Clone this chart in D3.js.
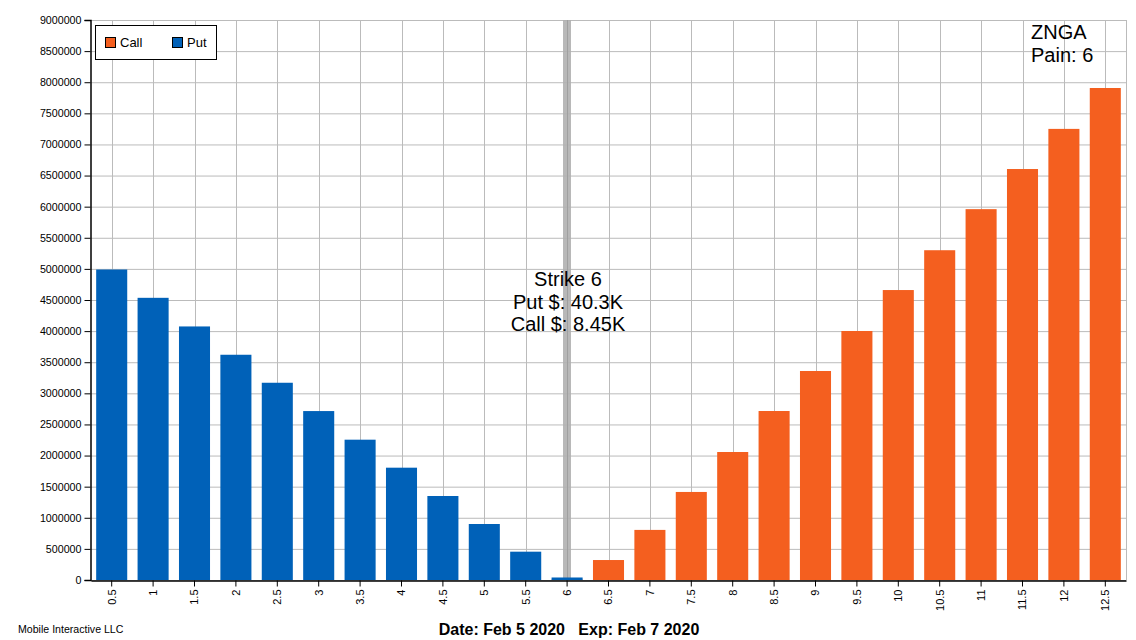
<!DOCTYPE html>
<html><head><meta charset="utf-8">
<script src="https://cdn.jsdelivr.net/npm/d3@7"></script>
<style>
html,body{margin:0;padding:0;background:#fff;}
text{font-family:"Liberation Sans",Arial,sans-serif;}
</style></head>
<body>
<svg id="c" width="1136" height="640"></svg>
<script>
const strikes = ["0.5","1","1.5","2","2.5","3","3.5","4","4.5","5","5.5","6","6.5","7","7.5","8","8.5","9","9.5","10","10.5","11","11.5","12","12.5"];
const putValues = [4990000,4535000,4075000,3620000,3170000,2715000,2255000,1805000,1350000,900000,455000,40300,0,0,0,0,0,0,0,0,0,0,0,0,0];
const callValues = [0,0,0,0,0,0,0,0,0,0,0,8450,321000,805000,1415000,2057000,2716000,3359000,4002000,4660000,5300000,5960000,6605000,7250000,7907000];
const yTicks = [0,500000,1000000,1500000,2000000,2500000,3000000,3500000,4000000,4500000,5000000,5500000,6000000,6500000,7000000,7500000,8000000,8500000,9000000];
const painStrike = "6";
const ticker = "ZNGA";
const annotation = ["Strike 6","Put $: 40.3K","Call $: 8.45K"];
const dateLine = "Date: Feb 5 2020   Exp: Feb 7 2020";
const company = "Mobile Interactive LLC";

const svg = d3.select("#c");
const L=91, R=1126, T=20, B=580;
const x = d3.scaleBand().domain(strikes).range([L,R]).paddingInner(0.25).paddingOuter(0.125);
const y = d3.scaleLinear().domain([0,9000000]).range([B,T]);
const gridC = "#bbbbbb";
const callC = "#f45f1f", putC = "#0061b8";

svg.append("g").selectAll("line").data(yTicks).join("line")
  .attr("x1",L).attr("x2",R).attr("y1",d=>y(d)+0.5).attr("y2",d=>y(d)+0.5)
  .attr("stroke",gridC).attr("stroke-width",1);
svg.append("g").selectAll("line").data(strikes).join("line")
  .attr("x1",d=>Math.round(x(d)+x.bandwidth()/2)+0.5).attr("x2",d=>Math.round(x(d)+x.bandwidth()/2)+0.5)
  .attr("y1",T).attr("y2",B).attr("stroke",gridC).attr("stroke-width",1);
svg.append("line").attr("x1",R+0.5).attr("x2",R+0.5).attr("y1",T).attr("y2",B).attr("stroke",gridC);

const sx = x(painStrike)+x.bandwidth()/2;
svg.append("rect").attr("x",Math.round(sx)-4).attr("y",T).attr("width",8).attr("height",B-T)
  .attr("fill","#b0b0b0").attr("opacity",0.9);
svg.append("line").attr("x1",Math.round(sx)+0.5).attr("x2",Math.round(sx)+0.5).attr("y1",T).attr("y2",B)
  .attr("stroke","#a0a0a0");

svg.append("g").selectAll("rect").data(strikes.map((s,i)=>({s,v:callValues[i]}))).join("rect")
  .attr("x",d=>x(d.s)).attr("width",x.bandwidth())
  .attr("y",d=>y(d.v)).attr("height",d=>B-y(d.v)).attr("fill",callC);
svg.append("g").selectAll("rect").data(strikes.map((s,i)=>({s,v:putValues[i]}))).join("rect")
  .attr("x",d=>x(d.s)).attr("width",x.bandwidth())
  .attr("y",d=>y(d.v)).attr("height",d=>B-y(d.v)).attr("fill",putC);

const ya = svg.append("g").attr("transform",`translate(${L-0.5},0)`)
  .call(d3.axisLeft(y).tickValues(yTicks).tickFormat(d3.format("d")).tickSize(6).tickPadding(3));
ya.selectAll("text").attr("font-size",10.7).attr("fill","#000");
ya.selectAll("line,path").attr("stroke","#000");
ya.select("path").attr("stroke-width",1.5);
const xa = svg.append("g").attr("transform",`translate(0,${B+0.5})`)
  .call(d3.axisBottom(x).tickSize(6).tickSizeOuter(0));
xa.selectAll("line,path").attr("stroke","#000");
xa.select("path").attr("stroke-width",1.5);
xa.selectAll("text").attr("font-size",11).attr("fill","#000")
  .attr("transform","rotate(-90)").attr("text-anchor","end")
  .attr("x",-9).attr("y",0).attr("dy","0.35em");

const lg = svg.append("g");
lg.append("rect").attr("x",95.5).attr("y",25.5).attr("width",121).attr("height",34).attr("fill","#fff").attr("stroke","#000");
[["Call",callC,105],["Put",putC,172]].forEach(([t,c,lx])=>{
  lg.append("rect").attr("x",lx+0.5).attr("y",37.5).attr("width",10).attr("height",10).attr("fill",c).attr("stroke","#000");
  lg.append("text").attr("x",lx+15).attr("y",47).attr("font-size",13).text(t);
});

annotation.forEach((t,i)=>{
  svg.append("text").attr("x",568).attr("y",286+i*22.5).attr("text-anchor","middle").attr("font-size",20).text(t);
});
svg.append("text").attr("x",1031).attr("y",39).attr("font-size",20).text(ticker);
svg.append("text").attr("x",1031).attr("y",62).attr("font-size",20).text("Pain: "+painStrike);

svg.append("text").attr("x",18).attr("y",633).attr("font-size",10.6).text(company);
svg.append("text").attr("x",569).attr("y",635).attr("text-anchor","middle").attr("font-size",16).attr("font-weight","bold").attr("xml:space","preserve").style("white-space","pre").text(dateLine);
</script>
</body></html>
